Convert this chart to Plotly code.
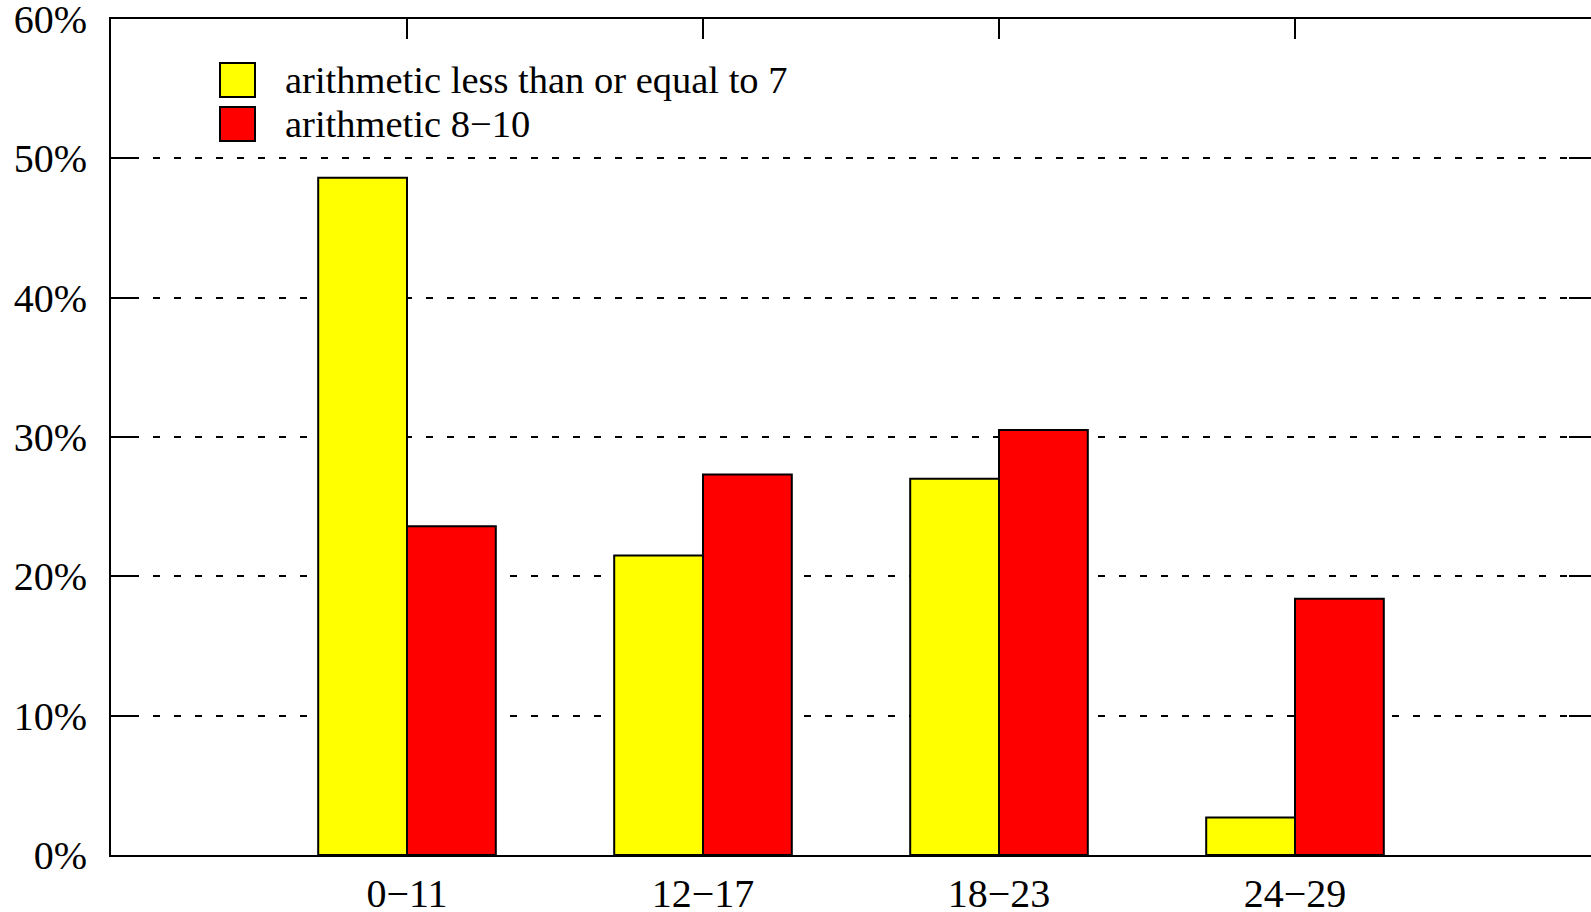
import plotly.graph_objects as go

# age groups and share of each arithmetic group
categories = ["0\u221211", "12\u221217", "18\u221223", "24\u221229"]
series_names = ["arithmetic less than or equal to 7", "arithmetic 8\u221210"]
low_arith = [48.6, 21.5, 27.0, 2.7]
high_arith = [23.6, 27.3, 30.5, 18.4]
y_ticks = [0, 10, 20, 30, 40, 50, 60]
y_labels = [f"{v}%" for v in y_ticks]

colors = ["#FFFF00", "#FF0000"]
FONT = "Liberation Serif, Times New Roman, serif"

W, H = 1591, 912
ML, MT, MB, MR = 111, 19, 57, 0

fig = go.Figure()

for name, vals, col in zip(series_names, [low_arith, high_arith], colors):
    fig.add_trace(go.Bar(
        x=categories, y=vals, name=name,
        marker=dict(color=col, line=dict(color="black", width=2)),
        showlegend=False,
    ))

# invisible helper on the right axis so it gets its ticks (no line, like the cropped original)
fig.add_trace(go.Scatter(x=[categories[0]], y=[0], yaxis="y2", mode="markers",
                         marker=dict(opacity=0), showlegend=False, hoverinfo="skip"))

fig.update_layout(
    width=W, height=H,
    margin=dict(l=ML, r=MR, t=MT, b=MB, pad=0),
    plot_bgcolor="white", paper_bgcolor="white",
    barmode="group", bargap=0.4, bargroupgap=0,
    font=dict(family=FONT, size=40, color="black"),
    xaxis=dict(
        type="category", range=[-1, 4], automargin=False,
        showline=True, linecolor="black", linewidth=2, mirror="ticks",
        ticks="inside", ticklen=20, tickwidth=2, tickcolor="black",
        showgrid=False, ticklabelstandoff=2, ticklabeloverflow="allow",
    ),
    yaxis=dict(
        range=[0, 60], tickmode="array", tickvals=y_ticks, ticktext=y_labels,
        automargin=False, ticklabeloverflow="allow",
        showline=True, linecolor="black", linewidth=2, mirror=False,
        ticks="inside", ticklen=22, tickwidth=2, tickcolor="black",
        showgrid=True, gridcolor="black", gridwidth=2, griddash="7px,14px",
        zeroline=False, ticklabelstandoff=14,
    ),
    yaxis2=dict(
        overlaying="y", side="right", range=[0, 60], tickmode="array",
        tickvals=y_ticks, automargin=False,
        showline=False, showgrid=False, zeroline=False, showticklabels=False,
        ticks="inside", ticklen=22, tickwidth=2, tickcolor="black",
    ),
)

# hand-built key with large swatches, as in the original
plot_w = W - ML - MR
plot_h = H - MT - MB
def px(xp):
    return (xp - ML) / plot_w
def py(yp):
    return 1 - (yp - MT) / plot_h

for i, (name, col) in enumerate(zip(series_names, colors)):
    top = 63 + i * 44
    fig.add_shape(type="rect", xref="paper", yref="paper",
                  x0=px(220), x1=px(255), y0=py(top + 34), y1=py(top),
                  fillcolor=col, line=dict(color="black", width=2))
    fig.add_annotation(xref="paper", yref="paper", x=px(283), y=py(top + 17),
                       text=name, showarrow=False, xanchor="left", yanchor="middle",
                       font=dict(family=FONT, size=38.5, color="black"))

fig.write_html("out.html", config={"displayModeBar": False},
               post_script="document.body.style.margin='0';")
